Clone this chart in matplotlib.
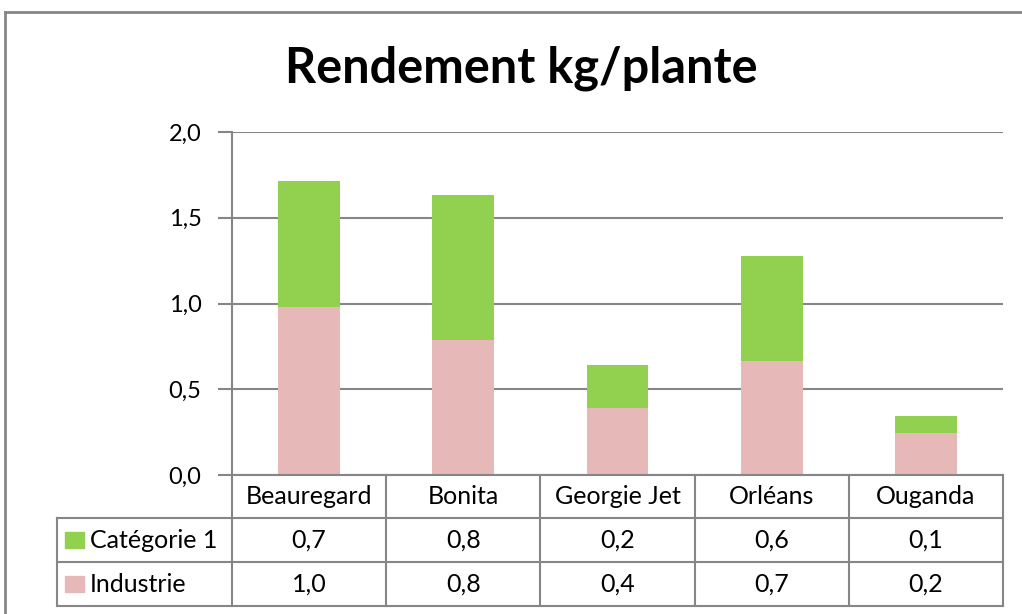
import matplotlib
matplotlib.use("Agg")
import matplotlib.pyplot as plt
from matplotlib.lines import Line2D
from matplotlib.patches import Rectangle
import matplotlib.transforms as mtransforms

plt.rcParams['font.family'] = ['Lato', 'DejaVu Sans']

categories = ["Beauregard", "Bonita", "Georgie Jet", "Orléans", "Ouganda"]
industrie = [0.98, 0.79, 0.39, 0.665, 0.245]
categorie1 = [0.735, 0.84, 0.25, 0.612, 0.099]
series_names = ["Catégorie 1", "Industrie"]
yticks = [0.0, 0.5, 1.0, 1.5, 2.0]
title = "Rendement kg/plante"

GREEN = "#92D050"
PINK = "#E6B8B7"
GRID = "#868686"

W, H = 1022, 614
fig = plt.figure(figsize=(W / 100, H / 100), dpi=100)

def fx(px):
    return px / W

def fy(py):
    return 1 - py / H

# plot area
x0, x1, ytop, ybot = 232, 1003, 132, 475
ax = fig.add_axes([fx(x0), fy(ybot), fx(x1) - fx(x0), fy(ytop) - fy(ybot)])
n = len(categories)
xs = list(range(n))
ax.bar(xs, industrie, width=0.4, color=PINK, zorder=3)
ax.bar(xs, categorie1, width=0.4, bottom=industrie, color=GREEN, zorder=3)
ax.set_xlim(-0.5, n - 0.5)
ax.set_ylim(0, 2.0)
ax.set_yticks(yticks)
ax.set_yticklabels([f"{t:.1f}".replace(".", ",") for t in yticks], fontsize=17)
ax.tick_params(axis='y', length=10, width=1.5, color=GRID, pad=12)
ax.set_xticks([])
ax.yaxis.grid(True, color=GRID, linewidth=1.5, zorder=0)
for s in ["top", "right", "bottom"]:
    ax.spines[s].set_visible(False)
ax.spines["left"].set_color(GRID)
ax.spines["left"].set_linewidth(1.5)
ax.set_facecolor("none")

# title
fig.text(fx(521), fy(68), title, ha="center", va="center", fontsize=35, fontweight="bold")

# chart border (cropped at right/bottom)
fig.add_artist(Line2D([fx(5), fx(5)], [fy(12), 0], color=GRID, linewidth=2))
fig.add_artist(Line2D([fx(5), 1], [fy(12), fy(12)], color=GRID, linewidth=2))

# data table
rows = [475, 518, 562, 606]
tleft = 57
bt = mtransforms.blended_transform_factory(ax.transData, fig.transFigure)
fig.add_artist(Line2D([fx(x0), fx(x1)], [fy(rows[0]), fy(rows[0])], color=GRID, linewidth=1.5))
for r in rows[1:]:
    fig.add_artist(Line2D([fx(tleft), fx(x1)], [fy(r), fy(r)], color=GRID, linewidth=1.5))
for i in range(n + 1):
    xb = i - 0.5
    fig.add_artist(Line2D([xb, xb], [fy(rows[0]), fy(rows[-1])], color=GRID, linewidth=1.5,
                          transform=bt))
fig.add_artist(Line2D([fx(tleft), fx(tleft)], [fy(rows[1]), fy(rows[-1])], color=GRID, linewidth=1.5))

def mid(a, b):
    return fy((a + b) / 2)

TS = 18
for i, c in enumerate(categories):
    fig.text(i, mid(rows[0], rows[1]), c, transform=bt, ha="center", va="center", fontsize=TS)
    fig.text(i, mid(rows[1], rows[2]), f"{categorie1[i]:.1f}".replace(".", ","), transform=bt,
             ha="center", va="center", fontsize=TS)
    fig.text(i, mid(rows[2], rows[3]), f"{industrie[i]:.1f}".replace(".", ","), transform=bt,
             ha="center", va="center", fontsize=TS)

for k, (name, col) in enumerate(zip(series_names, [GREEN, PINK])):
    r0, r1 = rows[1 + k], rows[2 + k]
    cy = (r0 + r1) / 2
    fig.add_artist(Rectangle((fx(65), fy(cy + 8)), fx(19), fy(cy - 8) - fy(cy + 8),
                             transform=fig.transFigure, color=col))
    fig.text(fx(90), mid(r0, r1), name, ha="left", va="center", fontsize=TS)

fig.savefig("out.png", dpi=100)
